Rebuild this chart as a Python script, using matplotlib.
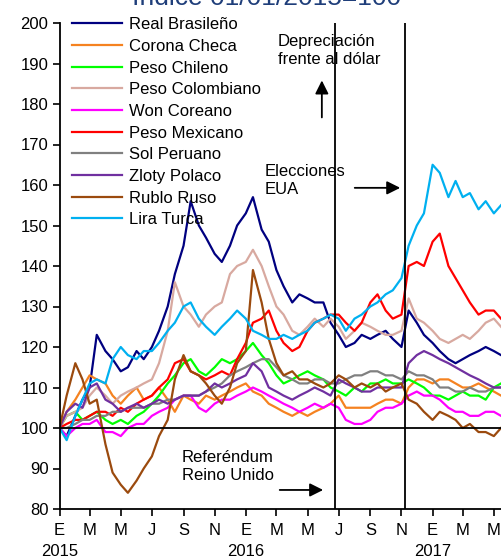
import numpy as np
import pandas as pd
import matplotlib
matplotlib.use("Agg")
import matplotlib.pyplot as plt

plt.rcParams['font.family'] = ['Liberation Sans', 'DejaVu Sans']

# fechas quincenales (1 y 15 de cada mes)
fechas = pd.date_range("2015-01-01", periods=58, freq="SMS")

real_brasileno = [100, 98, 103, 107, 110, 123, 119, 117, 114, 115, 119, 117, 120, 124, 130, 138,
                  145, 156, 150, 147, 143, 141, 145, 150, 153, 157, 149, 146, 139, 135, 131, 133,
                  132, 131, 131, 126, 123, 120, 121, 123, 122, 123, 124, 122, 120, 129, 126, 123,
                  121, 119, 117, 116, 117, 118, 119, 120, 119, 118]
corona_checa = [100, 104, 107, 110, 113, 112, 111, 108, 106, 108, 110, 107, 108, 110, 107, 104,
                108, 107, 106, 108, 107, 108, 109, 110, 111, 109, 108, 106, 105, 104, 103, 104,
                103, 104, 105, 106, 108, 105, 105, 105, 105, 106, 107, 107, 106, 110, 112, 112,
                111, 112, 112, 111, 110, 110, 111, 110, 109, 108]
peso_chileno = [100, 103, 104, 102, 103, 104, 102, 101, 102, 101, 103, 104, 106, 108, 111, 113,
                116, 117, 114, 113, 115, 117, 116, 117, 119, 121, 118, 116, 113, 111, 112, 113,
                114, 113, 112, 110, 109, 108, 110, 109, 111, 111, 112, 111, 111, 112, 111, 110,
                108, 108, 107, 108, 109, 108, 108, 107, 110, 111]
peso_colombiano = [100, 103, 104, 105, 108, 110, 108, 106, 108, 109, 110, 111, 112, 116, 124, 136,
                   130, 128, 125, 128, 130, 131, 138, 140, 141, 144, 140, 135, 130, 128, 124, 123,
                   125, 127, 125, 127, 125, 122, 124, 126, 125, 124, 123, 123, 124, 132, 127, 126,
                   124, 122, 121, 122, 123, 122, 124, 126, 127, 125]
won_coreano = [100, 98, 100, 101, 101, 102, 99, 99, 98, 100, 101, 101, 103, 104, 105, 107,
               108, 108, 105, 104, 106, 107, 107, 108, 109, 110, 109, 108, 107, 106, 105, 104,
               105, 106, 105, 106, 105, 102, 101, 101, 102, 104, 105, 105, 106, 108, 109, 108,
               108, 107, 105, 104, 104, 103, 103, 104, 104, 103]
peso_mexicano = [100, 101, 102, 102, 103, 104, 104, 103, 105, 104, 106, 107, 108, 110, 112, 116,
                 117, 114, 113, 112, 113, 114, 113, 117, 121, 126, 127, 129, 124, 121, 119, 120,
                 124, 126, 127, 128, 128, 126, 124, 126, 131, 133, 129, 127, 128, 140, 141, 140,
                 146, 148, 140, 137, 134, 131, 128, 129, 129, 127]
sol_peruano = [100, 100, 101, 102, 102, 103, 103, 104, 104, 105, 105, 105, 106, 106, 107, 107,
               108, 108, 108, 109, 110, 111, 113, 114, 115, 116, 117, 117, 115, 113, 112, 111,
               111, 112, 112, 111, 111, 112, 113, 113, 114, 114, 113, 113, 112, 114, 113, 113,
               112, 110, 110, 109, 109, 110, 109, 109, 110, 110]
zloty_polaco = [100, 104, 106, 105, 110, 111, 107, 106, 104, 105, 106, 105, 106, 107, 106, 107,
                108, 108, 108, 109, 111, 110, 111, 112, 113, 116, 114, 110, 109, 108, 107, 108,
                109, 110, 109, 108, 112, 111, 110, 109, 109, 110, 110, 110, 110, 116, 118, 119,
                118, 117, 116, 115, 114, 113, 112, 111, 110, 110]
rublo_ruso = [100, 108, 116, 112, 106, 107, 96, 89, 86, 84, 87, 90, 93, 98, 102, 112,
              118, 114, 113, 111, 108, 106, 110, 116, 119, 139, 131, 122, 116, 113, 114, 112,
              112, 111, 110, 111, 113, 112, 110, 111, 110, 111, 109, 110, 111, 107, 106, 104,
              102, 104, 103, 102, 100, 101, 99, 99, 98, 100]
lira_turca = [100, 97, 103, 107, 111, 112, 111, 117, 120, 118, 117, 119, 119, 121, 124, 126,
              130, 131, 127, 125, 123, 125, 127, 129, 127, 124, 123, 122, 122, 123, 122, 123,
              124, 126, 127, 128, 127, 124, 127, 128, 130, 131, 133, 134, 137, 145, 150, 153,
              165, 163, 157, 161, 157, 158, 154, 156, 153, 155]

nombres = ["Real Brasileño", "Corona Checa", "Peso Chileno", "Peso Colombiano", "Won Coreano",
           "Peso Mexicano", "Sol Peruano", "Zloty Polaco", "Rublo Ruso", "Lira Turca"]
series = [real_brasileno, corona_checa, peso_chileno, peso_colombiano, won_coreano,
          peso_mexicano, sol_peruano, zloty_polaco, rublo_ruso, lira_turca]
colores = ["#000080", "#F58220", "#00FF00", "#D8A9A0", "#FF00FF",
           "#FF0000", "#808080", "#7030A0", "#9B4A0E", "#00B0F0"]

ticks = pd.date_range("2015-01-01", "2017-05-01", freq="2MS")
letras = ["E", "M", "M", "J", "S", "N"]
etiquetas = []
for t in ticks:
    l = letras[(t.month - 1) // 2]
    if t.month == 1:
        l = l + "\n" + str(t.year)
    etiquetas.append(l)

fig = plt.figure(figsize=(5.01, 5.60), dpi=100)
ax = fig.add_axes([59.5 / 501, 1 - 509 / 560, 1 - 59.5 / 501, 486 / 560])

for nombre, valores, c in zip(nombres, series, colores):
    ax.plot(fechas, valores, color=c, lw=1.6, label=nombre)

ax.axhline(100, color="black", lw=1.3, zorder=5)
ax.axvline(pd.Timestamp("2016-06-23"), color="black", lw=1.3, zorder=5)
ax.axvline(pd.Timestamp("2016-11-08"), color="black", lw=1.3, zorder=5)

ax.set_xlim(pd.Timestamp("2015-01-01"), pd.Timestamp("2017-05-15"))
ax.set_ylim(80, 200)
ax.set_yticks(np.arange(80, 201, 10))
ax.set_xticks(ticks)
ax.set_xticklabels(etiquetas, fontsize=12, linespacing=1.55)
ax.tick_params(axis="y", labelsize=12, direction="out", length=5, width=1.2, pad=3)
ax.tick_params(axis="x", direction="out", length=5, width=1.2, pad=5)
for s in ["top", "right"]:
    ax.spines[s].set_visible(False)
for s in ["left", "bottom"]:
    ax.spines[s].set_linewidth(1.3)

ax.legend(loc="upper left", bbox_to_anchor=(0.028, 1.012), frameon=False, fontsize=12,
          handlelength=3.0, handletextpad=0.4, labelspacing=0.40, borderpad=0, borderaxespad=0)

fig.text(267 / 501, 1 - 5 / 560, "Índice 01/01/2015=100", fontsize=19, color="#1F3E7A",
         ha="center", va="baseline")

# anotaciones
ax.text(pd.Timestamp("2016-03-04"), 193.3, "Depreciación\nfrente al dólar",
        fontsize=12, va="center", linespacing=1.25)
ax.annotate("", xy=(pd.Timestamp("2016-05-29"), 186.5), xytext=(pd.Timestamp("2016-05-29"), 176.0),
            arrowprops=dict(arrowstyle="-|>", color="black", lw=1.3, mutation_scale=20))
ax.text(pd.Timestamp("2016-02-07"), 161.2, "Elecciones\nEUA", fontsize=12, va="center",
        linespacing=1.25)
ax.annotate("", xy=(pd.Timestamp("2016-11-04"), 159.3), xytext=(pd.Timestamp("2016-07-27"), 159.3),
            arrowprops=dict(arrowstyle="-|>", color="black", lw=1.3, mutation_scale=20))
ax.text(pd.Timestamp("2015-08-29"), 90.5, "Referéndum\nReino Unido", fontsize=12, va="center",
        linespacing=1.25)
ax.annotate("", xy=(pd.Timestamp("2016-06-06"), 84.7), xytext=(pd.Timestamp("2016-03-02"), 84.7),
            arrowprops=dict(arrowstyle="-|>", color="black", lw=1.3, mutation_scale=20))

fig.savefig("out.png", dpi=100)
